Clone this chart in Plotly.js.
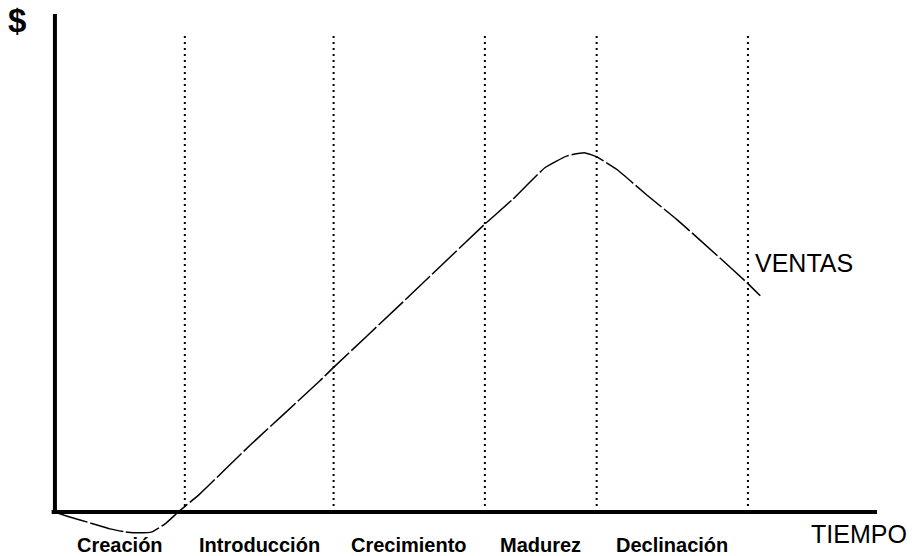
<!DOCTYPE html>
<html>
<head>
<meta charset="utf-8">
<script src="https://cdn.plot.ly/plotly-3.0.1.min.js"></script>
<style>html,body{margin:0;padding:0;background:#fff;}#chart{width:914px;height:556px;}</style>
</head>
<body>
<div id="chart"></div>
<script>
// Time (0-100) and sales ($, 0-100 scale)
var tiempo = [0, 1.8, 4.3, 6.7, 8.5, 10.3, 11.8, 13.4, 15.0, 17.6, 23.7, 32.2, 33.8, 42.0, 52.2, 55.6, 59.6, 62.3, 64.5, 65.9, 68.4, 72.0, 75.7, 80.9, 84.2, 85.8];
var ventas = [0, -1.0, -2.2, -3.4, -4.0, -4.2, -4.0, -2.4, 0, 3.6, 13.4, 26.4, 29.0, 41.8, 57.9, 62.9, 69.4, 71.8, 72.4, 71.6, 69.0, 63.9, 58.9, 51.2, 46.2, 43.6];
// Stage boundaries on the time axis
var limites = [0, 15.8, 33.9, 52.3, 65.9, 84.3];
var etapas = ["Creación", "Introducción", "Crecimiento", "Madurez", "Declinación"];
var ejeY = "$";
var ejeX = "TIEMPO";
var serie = "VENTAS";

var FONT = "Liberation Sans, Arial, Helvetica, sans-serif";

var shapes = [];
for (var i = 1; i < limites.length; i++) {
  shapes.push({type: "line", xref: "x", yref: "y", x0: limites[i], x1: limites[i], y0: 0, y1: 96.2,
    line: {color: "#000", width: 2, dash: "2px,4px"}});
}
shapes.push({type: "line", xref: "x", yref: "y", x0: 0, x1: 0, y0: 0, y1: 100.4, line: {color: "#000", width: 4}});
shapes.push({type: "line", xref: "x", yref: "y", x0: -0.4, x1: 100, y0: 0, y1: 0, line: {color: "#000", width: 4}});

var annotations = [];
for (var j = 0; j < etapas.length; j++) {
  annotations.push({x: (limites[j] + limites[j + 1]) / 2, y: -0.0095, xref: "x", yref: "paper", text: "<b>" + etapas[j] + "</b>",
    showarrow: false, xanchor: "center", yanchor: "middle", font: {family: FONT, size: 20, color: "#000"}});
}
annotations.push({x: -0.04, y: 0.9885, xref: "paper", yref: "paper", text: "<b>" + ejeY + "</b>", showarrow: false,
  xanchor: "center", yanchor: "middle", font: {family: FONT, size: 33, color: "#000"}});
annotations.push({x: 97.8, y: -4.44, xref: "x", yref: "y", text: ejeX, showarrow: false,
  xanchor: "center", yanchor: "middle", font: {family: FONT, size: 25, color: "#000"}});
annotations.push({x: 84.9, y: 50.2, xref: "x", yref: "y", text: serie, showarrow: false,
  xanchor: "left", yanchor: "middle", font: {family: FONT, size: 25, color: "#000"}});

var trace = {x: tiempo, y: ventas, type: "scatter", mode: "lines", line: {color: "#000", width: 1.5, shape: "spline", smoothing: 0.4, dash: "34px,3px"}, hoverinfo: "none"};

var layout = {
  width: 914, height: 556,
  margin: {l: 50, r: 37, t: 14, b: 16, pad: 0},
  paper_bgcolor: "#fff", plot_bgcolor: "#fff",
  showlegend: false,
  xaxis: {range: [-0.6, 100], showgrid: false, zeroline: false, showline: false, showticklabels: false, ticks: ""},
  yaxis: {range: [-5.645, 100.4], showgrid: false, zeroline: false, showline: false, showticklabels: false, ticks: ""},
  shapes: shapes,
  annotations: annotations
};

Plotly.newPlot("chart", [trace], layout, {displayModeBar: false, staticPlot: true});
</script>
</body>
</html>
